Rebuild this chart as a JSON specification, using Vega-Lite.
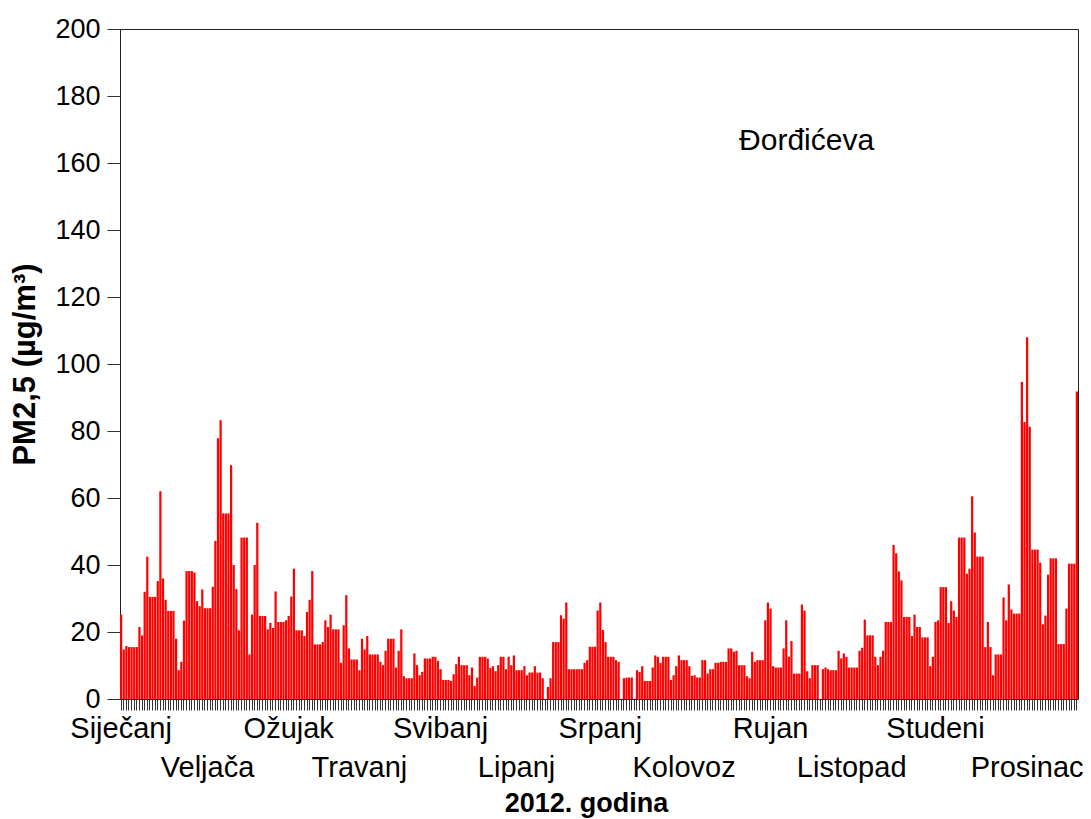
{
  "$schema": "https://vega.github.io/schema/vega-lite/v6.json",
  "width": 958,
  "height": 670,
  "autosize": {"type": "none"},
  "padding": {"left": 120, "top": 29, "right": 13, "bottom": 120},
  "background": "white",
  "config": {"view": {"stroke": "#222", "strokeWidth": 1}, "font": "Liberation Sans"},
  "data": {"values": [
{"d":1,"v":25.2},{"d":2,"v":14.8},{"d":3,"v":15.8},{"d":4,"v":15.5},{"d":5,"v":15.5},{"d":6,"v":15.5},{"d":7,"v":15.5},{"d":8,"v":21.5},{"d":9,"v":19},{"d":10,"v":32},
{"d":11,"v":42.5},{"d":12,"v":30.5},{"d":13,"v":30.5},{"d":14,"v":30.5},{"d":15,"v":35.2},{"d":16,"v":62},{"d":17,"v":36},{"d":18,"v":29.6},{"d":19,"v":26.3},{"d":20,"v":26.3},
{"d":21,"v":26.3},{"d":22,"v":18},{"d":23,"v":8.6},{"d":24,"v":11.1},{"d":25,"v":23.4},{"d":26,"v":38.2},{"d":27,"v":38.2},{"d":28,"v":38.2},{"d":29,"v":37.8},{"d":30,"v":29.2},
{"d":31,"v":27.7},{"d":32,"v":32.7},{"d":33,"v":27.1},{"d":34,"v":27.1},{"d":35,"v":27.1},{"d":36,"v":33.5},{"d":37,"v":47.2},{"d":38,"v":77.8},{"d":39,"v":83.2},{"d":40,"v":55.4},
{"d":41,"v":55.4},{"d":42,"v":55.4},{"d":43,"v":69.8},{"d":44,"v":40},{"d":45,"v":32.8},{"d":46,"v":20.5},{"d":47,"v":48.2},{"d":48,"v":48.2},{"d":49,"v":48.2},{"d":50,"v":13.3},
{"d":51,"v":25.2},{"d":52,"v":40},{"d":53,"v":52.6},{"d":54,"v":24.8},{"d":55,"v":24.8},{"d":56,"v":24.8},{"d":57,"v":20.8},{"d":58,"v":22.7},{"d":59,"v":21.2},{"d":60,"v":32.1},
{"d":61,"v":23},{"d":62,"v":23},{"d":63,"v":23},{"d":64,"v":23.5},{"d":65,"v":24.8},{"d":66,"v":30.6},{"d":67,"v":38.9},{"d":68,"v":20.5},{"d":69,"v":20.5},{"d":70,"v":20.5},
{"d":71,"v":18.8},{"d":72,"v":26},{"d":73,"v":29.6},{"d":74,"v":38.2},{"d":75,"v":16.3},{"d":76,"v":16.3},{"d":77,"v":16.3},{"d":78,"v":17},{"d":79,"v":23.5},{"d":80,"v":21.5},
{"d":81,"v":25.2},{"d":82,"v":20.8},{"d":83,"v":20.8},{"d":84,"v":20.8},{"d":85,"v":10.8},{"d":86,"v":22},{"d":87,"v":31},{"d":88,"v":15.1},{"d":89,"v":11.8},{"d":90,"v":11.8},
{"d":91,"v":11.8},{"d":92,"v":8.6},{"d":93,"v":18},{"d":94,"v":14.8},{"d":95,"v":18.8},{"d":96,"v":13.3},{"d":97,"v":13.3},{"d":98,"v":13.3},{"d":99,"v":13.3},{"d":100,"v":11.1},
{"d":101,"v":10.1},{"d":102,"v":14.4},{"d":103,"v":18},{"d":104,"v":18},{"d":105,"v":18},{"d":106,"v":9.4},{"d":107,"v":14.4},{"d":108,"v":20.8},{"d":109,"v":6.8},{"d":110,"v":6.2},
{"d":111,"v":6.2},{"d":112,"v":6.2},{"d":113,"v":13.6},{"d":114,"v":10.1},{"d":115,"v":7.1},{"d":116,"v":8.1},{"d":117,"v":12.1},{"d":118,"v":12.1},{"d":119,"v":12.1},{"d":120,"v":12.6},
{"d":121,"v":12.6},{"d":122,"v":11.4},{"d":123,"v":8.9},{"d":124,"v":5.7},{"d":125,"v":5.7},{"d":126,"v":5.7},{"d":127,"v":5.4},{"d":128,"v":7.4},{"d":129,"v":10.4},{"d":130,"v":12.6},
{"d":131,"v":10.1},{"d":132,"v":10.1},{"d":133,"v":10.1},{"d":134,"v":7.1},{"d":135,"v":9.4},{"d":136,"v":3.9},{"d":137,"v":6.4},{"d":138,"v":12.6},{"d":139,"v":12.6},{"d":140,"v":12.6},
{"d":141,"v":12.1},{"d":142,"v":9.3},{"d":143,"v":9.8},{"d":144,"v":8.3},{"d":145,"v":10.1},{"d":146,"v":12.6},{"d":147,"v":12.6},{"d":148,"v":8.9},{"d":149,"v":12.6},{"d":150,"v":10.1},
{"d":151,"v":13},{"d":152,"v":8.6},{"d":153,"v":8.6},{"d":154,"v":8.6},{"d":155,"v":9.8},{"d":156,"v":7.1},{"d":157,"v":7.9},{"d":158,"v":7.9},{"d":159,"v":9.8},{"d":160,"v":7.9},
{"d":161,"v":7.9},{"d":162,"v":6.2},{"d":163,"v":0},{"d":164,"v":3.6},{"d":165,"v":6.2},{"d":166,"v":17},{"d":167,"v":17},{"d":168,"v":17},{"d":169,"v":25},{"d":170,"v":24},
{"d":171,"v":28.8},{"d":172,"v":8.9},{"d":173,"v":8.9},{"d":174,"v":8.9},{"d":175,"v":8.9},{"d":176,"v":8.9},{"d":177,"v":8.9},{"d":178,"v":10.8},{"d":179,"v":11.6},{"d":180,"v":15.6},
{"d":181,"v":15.6},{"d":182,"v":15.6},{"d":183,"v":26.4},{"d":184,"v":28.8},{"d":185,"v":20.6},{"d":186,"v":17},{"d":187,"v":12.6},{"d":188,"v":12.6},{"d":189,"v":12.6},{"d":190,"v":11.6},
{"d":191,"v":11.1},{"d":192,"v":0},{"d":193,"v":6.2},{"d":194,"v":6.4},{"d":195,"v":6.4},{"d":196,"v":6.4},{"d":197,"v":0},{"d":198,"v":8.6},{"d":199,"v":8.1},{"d":200,"v":9.8},
{"d":201,"v":5.4},{"d":202,"v":5.4},{"d":203,"v":5.4},{"d":204,"v":9.4},{"d":205,"v":13},{"d":206,"v":12.6},{"d":207,"v":10.8},{"d":208,"v":12.6},{"d":209,"v":12.6},{"d":210,"v":12.6},
{"d":211,"v":5.7},{"d":212,"v":7.1},{"d":213,"v":9.8},{"d":214,"v":13},{"d":215,"v":11.6},{"d":216,"v":11.6},{"d":217,"v":11.6},{"d":218,"v":9.8},{"d":219,"v":6.9},{"d":220,"v":7.1},
{"d":221,"v":6.4},{"d":222,"v":6.4},{"d":223,"v":11.6},{"d":224,"v":11.6},{"d":225,"v":7.6},{"d":226,"v":8.9},{"d":227,"v":8.9},{"d":228,"v":10.8},{"d":229,"v":10.8},{"d":230,"v":11.1},
{"d":231,"v":11.1},{"d":232,"v":11.1},{"d":233,"v":15.1},{"d":234,"v":15.1},{"d":235,"v":14.1},{"d":236,"v":14.4},{"d":237,"v":10.1},{"d":238,"v":10.1},{"d":239,"v":10.1},{"d":240,"v":6.8},
{"d":241,"v":6.2},{"d":242,"v":14.1},{"d":243,"v":11.1},{"d":244,"v":11.6},{"d":245,"v":11.6},{"d":246,"v":11.6},{"d":247,"v":23.5},{"d":248,"v":28.8},{"d":249,"v":27},{"d":250,"v":9.8},
{"d":251,"v":9.4},{"d":252,"v":9.4},{"d":253,"v":9.4},{"d":254,"v":15.1},{"d":255,"v":23.5},{"d":256,"v":12.6},{"d":257,"v":17.3},{"d":258,"v":7.6},{"d":259,"v":7.6},{"d":260,"v":7.6},
{"d":261,"v":28.2},{"d":262,"v":26.4},{"d":263,"v":8.3},{"d":264,"v":6.2},{"d":265,"v":10.1},{"d":266,"v":10.1},{"d":267,"v":10.1},{"d":268,"v":0},{"d":269,"v":8.9},{"d":270,"v":9.4},
{"d":271,"v":8.9},{"d":272,"v":8.6},{"d":273,"v":8.6},{"d":274,"v":8.6},{"d":275,"v":14.4},{"d":276,"v":12.1},{"d":277,"v":13.6},{"d":278,"v":12.6},{"d":279,"v":9.4},{"d":280,"v":9.4},
{"d":281,"v":9.4},{"d":282,"v":9.4},{"d":283,"v":14.4},{"d":284,"v":15.3},{"d":285,"v":23.7},{"d":286,"v":19},{"d":287,"v":19},{"d":288,"v":19},{"d":289,"v":12.6},{"d":290,"v":10.1},
{"d":291,"v":12.6},{"d":292,"v":14.4},{"d":293,"v":23},{"d":294,"v":23},{"d":295,"v":23},{"d":296,"v":46},{"d":297,"v":43.5},{"d":298,"v":38.1},{"d":299,"v":35.4},{"d":300,"v":24.5},
{"d":301,"v":24.5},{"d":302,"v":24.5},{"d":303,"v":18.8},{"d":304,"v":25.2},{"d":305,"v":21.5},{"d":306,"v":21.5},{"d":307,"v":18.4},{"d":308,"v":18.4},{"d":309,"v":18.4},{"d":310,"v":9.8},
{"d":311,"v":12.6},{"d":312,"v":23},{"d":313,"v":23.5},{"d":314,"v":33.4},{"d":315,"v":33.4},{"d":316,"v":33.4},{"d":317,"v":22.7},{"d":318,"v":29.2},{"d":319,"v":26.4},{"d":320,"v":24.5},
{"d":321,"v":48.2},{"d":322,"v":48.2},{"d":323,"v":48.2},{"d":324,"v":37.4},{"d":325,"v":38.9},{"d":326,"v":60.5},{"d":327,"v":49.7},{"d":328,"v":42.5},{"d":329,"v":42.5},{"d":330,"v":42.5},
{"d":331,"v":15.5},{"d":332,"v":23},{"d":333,"v":15.5},{"d":334,"v":7.1},{"d":335,"v":13.3},{"d":336,"v":13.3},{"d":337,"v":13.3},{"d":338,"v":30.3},{"d":339,"v":23.5},{"d":340,"v":34.2},
{"d":341,"v":26.7},{"d":342,"v":25.5},{"d":343,"v":25.5},{"d":344,"v":25.5},{"d":345,"v":94.6},{"d":346,"v":82.7},{"d":347,"v":108},{"d":348,"v":81.3},{"d":349,"v":44.6},{"d":350,"v":44.6},
{"d":351,"v":44.6},{"d":352,"v":40.7},{"d":353,"v":22.3},{"d":354,"v":24.9},{"d":355,"v":37.1},{"d":356,"v":42},{"d":357,"v":42},{"d":358,"v":42},{"d":359,"v":16.4},{"d":360,"v":16.4},
{"d":361,"v":16.4},{"d":362,"v":27},{"d":363,"v":40.4},{"d":364,"v":40.4},{"d":365,"v":40.4},{"d":366,"v":91.8}
  ]},
  "layer": [
    {
      "mark": {"type": "bar", "color": "#ff0000"},
      "encoding": {
        "x": {
          "field": "d",
          "type": "ordinal",
          "scale": {"paddingInner": 0.15, "paddingOuter": 0},
          "axis": {
            "title": "2012. godina",
            "titleFont": "Liberation Sans",
            "titleFontSize": 27,
            "titleFontWeight": "bold",
            "titleColor": "black",
            "titleX": 466,
            "titleY": 104,
            "titleAlign": "center",
            "titleBaseline": "middle",
            "labelExpr": "datum.value == 1 ? 'Siječanj' : datum.value == 34 ? 'Veljača' : datum.value == 65 ? 'Ožujak' : datum.value == 92 ? 'Travanj' : datum.value == 123 ? 'Svibanj' : datum.value == 152 ? 'Lipanj' : datum.value == 184 ? 'Srpanj' : datum.value == 216 ? 'Kolovoz' : datum.value == 249 ? 'Rujan' : datum.value == 280 ? 'Listopad' : datum.value == 312 ? 'Studeni' : datum.value == 347 ? 'Prosinac' : ''",
            "labelFont": "Liberation Sans",
            "labelFontSize": 29,
            "labelColor": "black",
            "labelAngle": 0,
            "labelOverlap": false,
            "labelBound": false,
            "labelFlush": false,
            "labelBaseline": "top",
            "labelPadding": {"condition": {"test": "indexof([34,92,152,216,280,347], datum.value) >= 0", "value": 43}, "value": 4},
            "tickSize": 11,
            "tickColor": "#333",
            "tickWidth": 1,
            "domainColor": "#222",
            "grid": false
          }
        },
        "y": {
          "field": "v",
          "type": "quantitative",
          "scale": {"domain": [0, 200], "nice": false},
          "axis": {
            "title": "PM2,5 (µg/m³)",
            "titleFont": "Liberation Sans",
            "titleFontSize": 31,
            "titleFontWeight": "bold",
            "titleColor": "black",
            "titleAngle": -90,
            "titleX": -86,
            "titleY": 335,
            "titleAlign": "center",
            "titleBaseline": "alphabetic",
            "values": [0,10,20,30,40,50,60,70,80,90,100,110,120,130,140,150,160,170,180,190,200],
            "labelExpr": "datum.value % 20 == 0 ? datum.label : ''",
            "labelFont": "Liberation Sans",
            "labelFontSize": 27,
            "labelColor": "black",
            "labelPadding": 7,
            "labelOverlap": false,
            "tickSize": {"condition": {"test": "datum.value % 20 != 0", "value": 9}, "value": 13},
            "tickColor": "#333",
            "domainColor": "#222",
            "grid": false
          }
        }
      }
    },
    {
      "data": {"values": [{}]},
      "mark": {"type": "text", "text": "Đorđićeva", "align": "left", "baseline": "alphabetic", "fontSize": 30, "font": "Liberation Sans", "color": "black"},
      "encoding": {
        "x": {"datum": 237, "type": "ordinal"},
        "y": {"datum": 164, "type": "quantitative"}
      }
    }
  ]
}
